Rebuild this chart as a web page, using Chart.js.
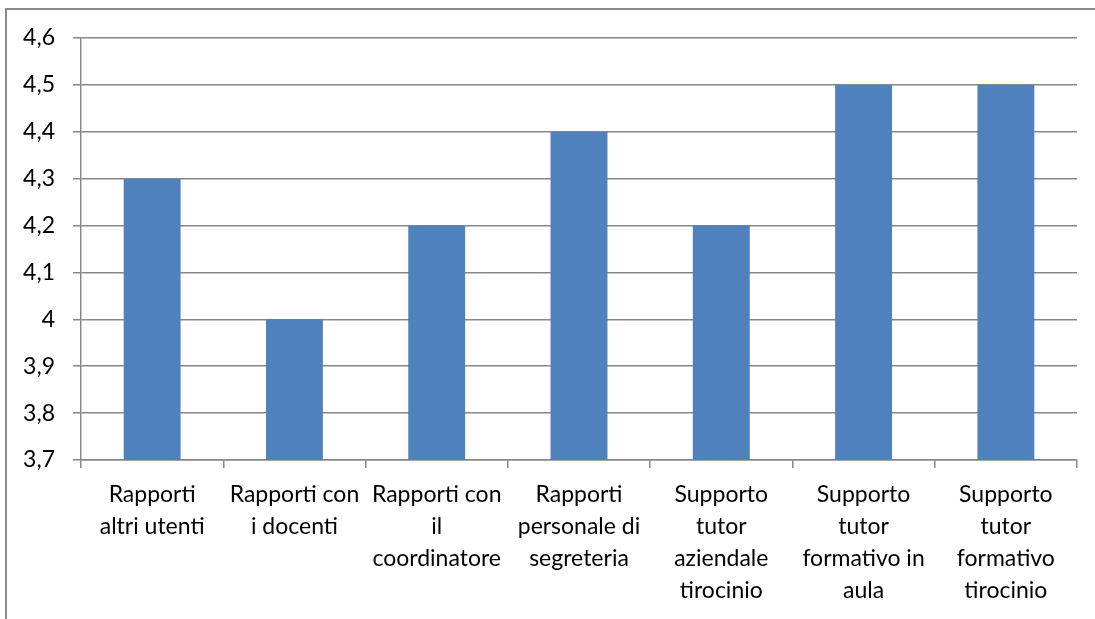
<!DOCTYPE html>
<html>
<head>
<meta charset="utf-8">
<script src="https://cdn.jsdelivr.net/npm/chart.js@4"></script>
<style>
  html, body { margin: 0; padding: 0; background: #ffffff; overflow: hidden; }
  #wrap { position: relative; width: 1095px; height: 619px; }
  #frame { position: absolute; left: 5px; top: 8px; width: 1200px; height: 700px;
           border-left: 2px solid #8a8a8a; border-top: 2px solid #8a8a8a; }
  canvas { position: absolute; left: 0; top: 0; }
</style>
</head>
<body>
<div id="wrap">
  <div id="frame"></div>
  <canvas id="c" width="1095" height="619"></canvas>
</div>
<script>
const categories = [
  ["Rapporti", "altri utenti"],
  ["Rapporti con", "i docenti"],
  ["Rapporti con", "il", "coordinatore"],
  ["Rapporti", "personale di", "segreteria"],
  ["Supporto", "tutor", "aziendale", "tirocinio"],
  ["Supporto", "tutor", "formativo in", "aula"],
  ["Supporto", "tutor", "formativo", "tirocinio"]
];
const values = [4.3, 4.0, 4.2, 4.4, 4.2, 4.5, 4.5];
const yTickLabels = ["3,7", "3,8", "3,9", "4", "4,1", "4,2", "4,3", "4,4", "4,5", "4,6"];
const yMin = 3.7, yMax = 4.6, yStep = 0.1;

const gridColor = "#878787";
const fontFamily = "Lato, 'Open Sans', sans-serif";

new Chart(document.getElementById("c"), {
  type: "bar",
  data: {
    labels: categories,
    datasets: [{
      data: values,
      backgroundColor: "#4F81BD",
      borderWidth: 0,
      categoryPercentage: 1.0,
      barPercentage: 0.4
    }]
  },
  options: {
    responsive: false,
    animation: false,
    devicePixelRatio: 1,
    layout: { padding: { top: 38, right: 18, bottom: 0, left: 0 } },
    plugins: { legend: { display: false }, tooltip: { enabled: false } },
    scales: {
      x: {
        offset: true,
        grid: {
          offset: true,
          drawOnChartArea: false,
          drawTicks: true,
          tickLength: 8,
          color: gridColor,
          lineWidth: 1.5
        },
        border: { display: true, color: gridColor, width: 1.5 },
        ticks: {
          color: "#000000",
          font: { family: fontFamily, size: 23, lineHeight: 1.38 },
          padding: 11,
          maxRotation: 0,
          autoSkip: false
        },
        afterFit: (s) => { s.height = 619 - 460; }
      },
      y: {
        min: yMin,
        max: yMax,
        grid: {
          color: gridColor,
          lineWidth: 1.5,
          drawTicks: true,
          tickLength: 8
        },
        border: { display: true, color: gridColor, width: 1.5 },
        ticks: {
          stepSize: yStep,
          color: "#000000",
          font: { family: fontFamily, size: 23 },
          padding: 18,
          callback: (v, i) => yTickLabels[i]
        },
        afterFit: (s) => { s.width = 81; }
      }
    }
  }
});
</script>
</body>
</html>
